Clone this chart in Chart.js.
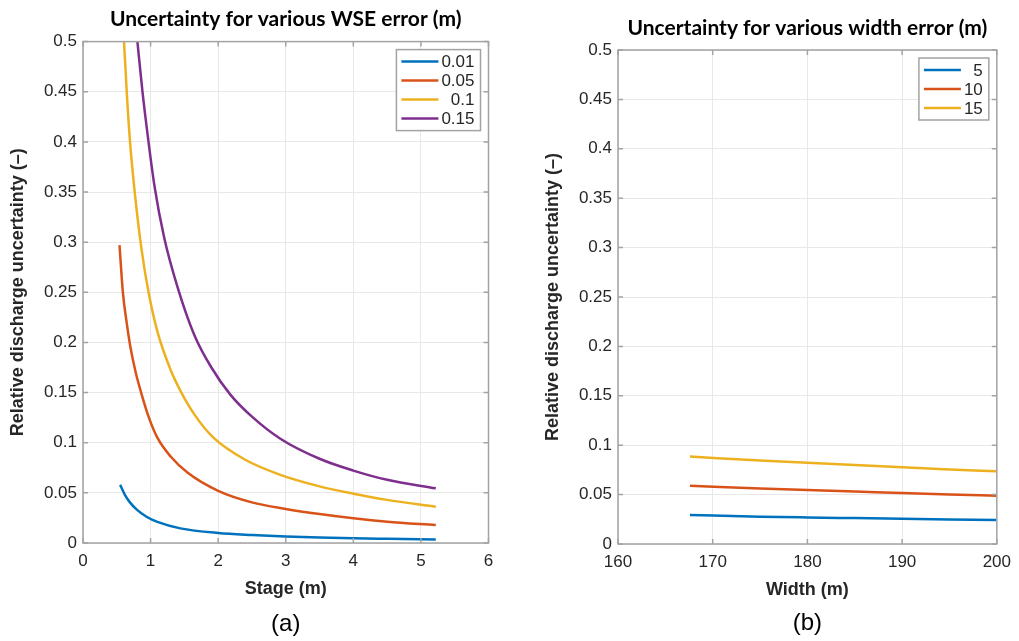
<!DOCTYPE html>
<html>
<head>
<meta charset="utf-8">
<script src="https://cdn.jsdelivr.net/npm/chart.js@4.4.1/dist/chart.umd.min.js"></script>
<style>
  html, body { margin: 0; padding: 0; background: #fff; }
  #wrap { position: relative; width: 1019px; height: 641px; overflow: hidden; }
  canvas { position: absolute; top: 0; }
  #stageChart { left: 0; }
  #widthChart { left: 510px; }
</style>
</head>
<body>
<div id="wrap">
  <canvas id="stageChart" width="510" height="641"></canvas>
  <canvas id="widthChart" width="509" height="641"></canvas>
</div>
<script>
// ---- (a) uncertainty vs stage, one curve per WSE error (m)
const wseErrors = ['0.01', '0.05', '0.1', '0.15'];

const stageWse001 = [0.55, 0.62, 0.70, 0.80, 0.94, 1.10, 1.44, 2.0, 2.5, 3.0, 3.5, 4.0, 4.5, 5.22];
const uncWse001   = [0.058, 0.048, 0.040, 0.033, 0.0262, 0.021, 0.0146, 0.0100, 0.0080, 0.0066, 0.0056, 0.0048, 0.0042, 0.0034];

const stageWse005 = [0.54, 0.59, 0.65, 0.70, 0.78, 0.86, 0.97, 1.10, 1.30, 1.55, 2.0, 2.5, 3.0, 3.5, 4.0, 4.5, 5.22];
const uncWse005   = [0.297, 0.250, 0.218, 0.196, 0.170, 0.150, 0.126, 0.105, 0.086, 0.070, 0.052, 0.0405, 0.0340, 0.0289, 0.0247, 0.0213, 0.0179];

const stageWse01 = [0.607, 0.647, 0.696, 0.77, 0.87, 0.97, 1.10, 1.30, 1.44, 1.65, 1.93, 2.4, 2.92, 3.5, 4.0, 4.5, 5.22];
const uncWse01   = [0.5, 0.45, 0.4, 0.347, 0.291, 0.25, 0.211, 0.172, 0.152, 0.128, 0.105, 0.083, 0.068, 0.0565, 0.0492, 0.0430, 0.0362];

const stageWse015 = [0.805, 0.88, 0.96, 1.06, 1.2, 1.4, 1.65, 1.9, 2.18, 2.5, 2.92, 3.5, 4.0, 4.5, 5.22];
const uncWse015   = [0.5, 0.45, 0.405, 0.355, 0.305, 0.255, 0.207, 0.175, 0.148, 0.126, 0.104, 0.0840, 0.0722, 0.0630, 0.0545];

// ---- (b) uncertainty vs width, one curve per width error (m)
const widthErrors = ['5', '10', '15'];
const widths      = [167.6, 175, 180, 185, 190, 195, 200];
const uncWidth5   = [0.0293, 0.0277, 0.0269, 0.0262, 0.0255, 0.0249, 0.0243];
const uncWidth10  = [0.0590, 0.0562, 0.0547, 0.0532, 0.0516, 0.0502, 0.0489];
const uncWidth15  = [0.0885, 0.0845, 0.0822, 0.0799, 0.0776, 0.0755, 0.0736];

// ---- tick labels
const stageTicks = ['0', '1', '2', '3', '4', '5', '6'];
const widthTicks = ['160', '170', '180', '190', '200'];
const uncTicks = ['0', '0.05', '0.1', '0.15', '0.2', '0.25', '0.3', '0.35', '0.4', '0.45', '0.5'];

const lineColors = ['#0072BD', '#D95319', '#EDB120', '#7E2F8E'];
const textColor = '#262626';
const frameColor = '#a3a3a3';
const tickFont = { family: '"Liberation Sans", Arial, sans-serif', size: 17 };
const labelFont = { family: '"Liberation Sans", Arial, sans-serif', size: 18, weight: 'bold' };

function toPoints(xs, ys) {
    return xs.map((x, i) => ({ x: x, y: ys[i] }));
}

function makeDataset(label, xs, ys, color) {
    return {
        label: label,
        data: toPoints(xs, ys),
        borderColor: color,
        backgroundColor: color,
        borderWidth: 2.5,
        pointRadius: 0,
        cubicInterpolationMode: 'monotone',
        fill: false
    };
}

// box round the axes with inward ticks on all four sides, MATLAB style
const matlabFrame = {
    id: 'matlabFrame',
    afterDatasetsDraw(chart) {
        const { ctx, chartArea: a, scales } = chart;
        ctx.save();
        ctx.strokeStyle = frameColor;
        ctx.lineWidth = 1.5;
        ctx.beginPath();
        scales.x.ticks.forEach(t => {
            const px = scales.x.getPixelForValue(t.value);
            ctx.moveTo(px, a.bottom); ctx.lineTo(px, a.bottom - 5);
            ctx.moveTo(px, a.top); ctx.lineTo(px, a.top + 5);
        });
        scales.y.ticks.forEach(t => {
            const py = scales.y.getPixelForValue(t.value);
            ctx.moveTo(a.left, py); ctx.lineTo(a.left + 5, py);
            ctx.moveTo(a.right, py); ctx.lineTo(a.right - 5, py);
        });
        ctx.stroke();
        ctx.strokeRect(a.left, a.top, a.right - a.left, a.bottom - a.top);
        ctx.restore();
    }
};

// legend in a box at the top right corner of the axes
const boxLegend = {
    id: 'boxLegend',
    afterDraw(chart) {
        const { ctx, chartArea: a } = chart;
        const sets = chart.data.datasets;
        ctx.save();
        ctx.font = tickFont.size + 'px ' + tickFont.family;
        const textW = Math.max(...sets.map(d => ctx.measureText(d.label).width));
        const w = 5 + 37 + 3 + textW + 6;
        const h = 24 + 19 * (sets.length - 1);
        const x0 = a.right - 8 - w;
        const y0 = a.top + 8;
        ctx.fillStyle = '#fff';
        ctx.fillRect(x0, y0, w, h);
        ctx.strokeStyle = frameColor;
        ctx.lineWidth = 1.5;
        ctx.strokeRect(x0, y0, w, h);
        sets.forEach((d, i) => {
            const y = y0 + 12 + 19 * i;
            ctx.strokeStyle = d.borderColor;
            ctx.lineWidth = 2.5;
            ctx.beginPath();
            ctx.moveTo(x0 + 5, y);
            ctx.lineTo(x0 + 42, y);
            ctx.stroke();
            ctx.fillStyle = textColor;
            ctx.textAlign = 'right';
            ctx.textBaseline = 'middle';
            ctx.fillText(d.label, x0 + w - 6, y + 1);
        });
        ctx.restore();
    }
};

function makeOptions(cfg) {
    return {
        responsive: false,
        animation: false,
        devicePixelRatio: 1,
        layout: { padding: { left: 0, right: cfg.padRight, top: 0, bottom: 0 } },
        plugins: {
            legend: { display: false },
            tooltip: { enabled: false },
            title: {
                display: true,
                text: cfg.title,
                fullSize: false,
                color: '#000',
                font: { family: 'Lato, "Open Sans", sans-serif', size: 21, weight: 'bold' },
                padding: cfg.titlePad
            },
            subtitle: {
                display: true,
                position: 'bottom',
                text: cfg.panel,
                fullSize: false,
                color: '#000',
                font: { family: '"Liberation Sans", Arial, sans-serif', size: 24, weight: 'normal' },
                padding: cfg.panelPad
            }
        },
        scales: {
            x: {
                type: 'linear',
                min: cfg.xMin,
                max: cfg.xMax,
                afterFit: s => { s.height = cfg.xHeight; },
                border: { display: false },
                grid: { color: '#e8e8e8', drawTicks: false },
                ticks: {
                    stepSize: cfg.xStep,
                    autoSkip: false,
                    maxRotation: 0,
                    padding: 8,
                    color: textColor,
                    font: tickFont,
                    callback: (v, i) => cfg.xTicks[i]
                },
                title: {
                    display: true,
                    text: cfg.xTitle,
                    color: textColor,
                    font: labelFont,
                    padding: { top: 0, bottom: cfg.xTitlePad }
                }
            },
            y: {
                type: 'linear',
                min: 0,
                max: 0.5,
                afterFit: s => { s.width = cfg.yWidth; },
                border: { display: false },
                grid: { color: '#e8e8e8', drawTicks: false },
                ticks: {
                    stepSize: 0.05,
                    autoSkip: false,
                    padding: 6,
                    color: textColor,
                    font: tickFont,
                    callback: (v, i) => uncTicks[i]
                },
                title: {
                    display: true,
                    text: 'Relative discharge uncertainty (\u2013)',
                    color: textColor,
                    font: labelFont,
                    padding: { top: cfg.yTitlePad, bottom: 0 }
                }
            }
        }
    };
}

new Chart(document.getElementById('stageChart'), {
    type: 'line',
    data: {
        datasets: [
            makeDataset(wseErrors[0], stageWse001, uncWse001, lineColors[0]),
            makeDataset(wseErrors[1], stageWse005, uncWse005, lineColors[1]),
            makeDataset(wseErrors[2], stageWse01, uncWse01, lineColors[2]),
            makeDataset(wseErrors[3], stageWse015, uncWse015, lineColors[3])
        ]
    },
    options: makeOptions({
        title: 'Uncertainty for various WSE error (m)',
        panel: '(a)',
        xTitle: 'Stage (m)',
        xMin: 0, xMax: 6, xStep: 1, xTicks: stageTicks,
        padRight: 21.5,
        titlePad: { top: 6.2, bottom: 10.2 },
        panelPad: { top: 0.6, bottom: 2.6 },
        xHeight: 66, xTitlePad: 9.2,
        yWidth: 83, yTitlePad: 7.2
    }),
    plugins: [matlabFrame, boxLegend]
});

new Chart(document.getElementById('widthChart'), {
    type: 'line',
    data: {
        datasets: [
            makeDataset(widthErrors[0], widths, uncWidth5, lineColors[0]),
            makeDataset(widthErrors[1], widths, uncWidth10, lineColors[1]),
            makeDataset(widthErrors[2], widths, uncWidth15, lineColors[2])
        ]
    },
    options: makeOptions({
        title: 'Uncertainty for various width error (m)',
        panel: '(b)',
        xTitle: 'Width (m)',
        xMin: 160, xMax: 200, xStep: 10, xTicks: widthTicks,
        padRight: 15,
        titlePad: { top: 15.4, bottom: 9.4 },
        panelPad: { top: 0.6, bottom: 3.6 },
        xHeight: 64, xTitlePad: 7.2,
        yWidth: 108, yTitlePad: 32.2
    }),
    plugins: [matlabFrame, boxLegend]
});
</script>
</body>
</html>
